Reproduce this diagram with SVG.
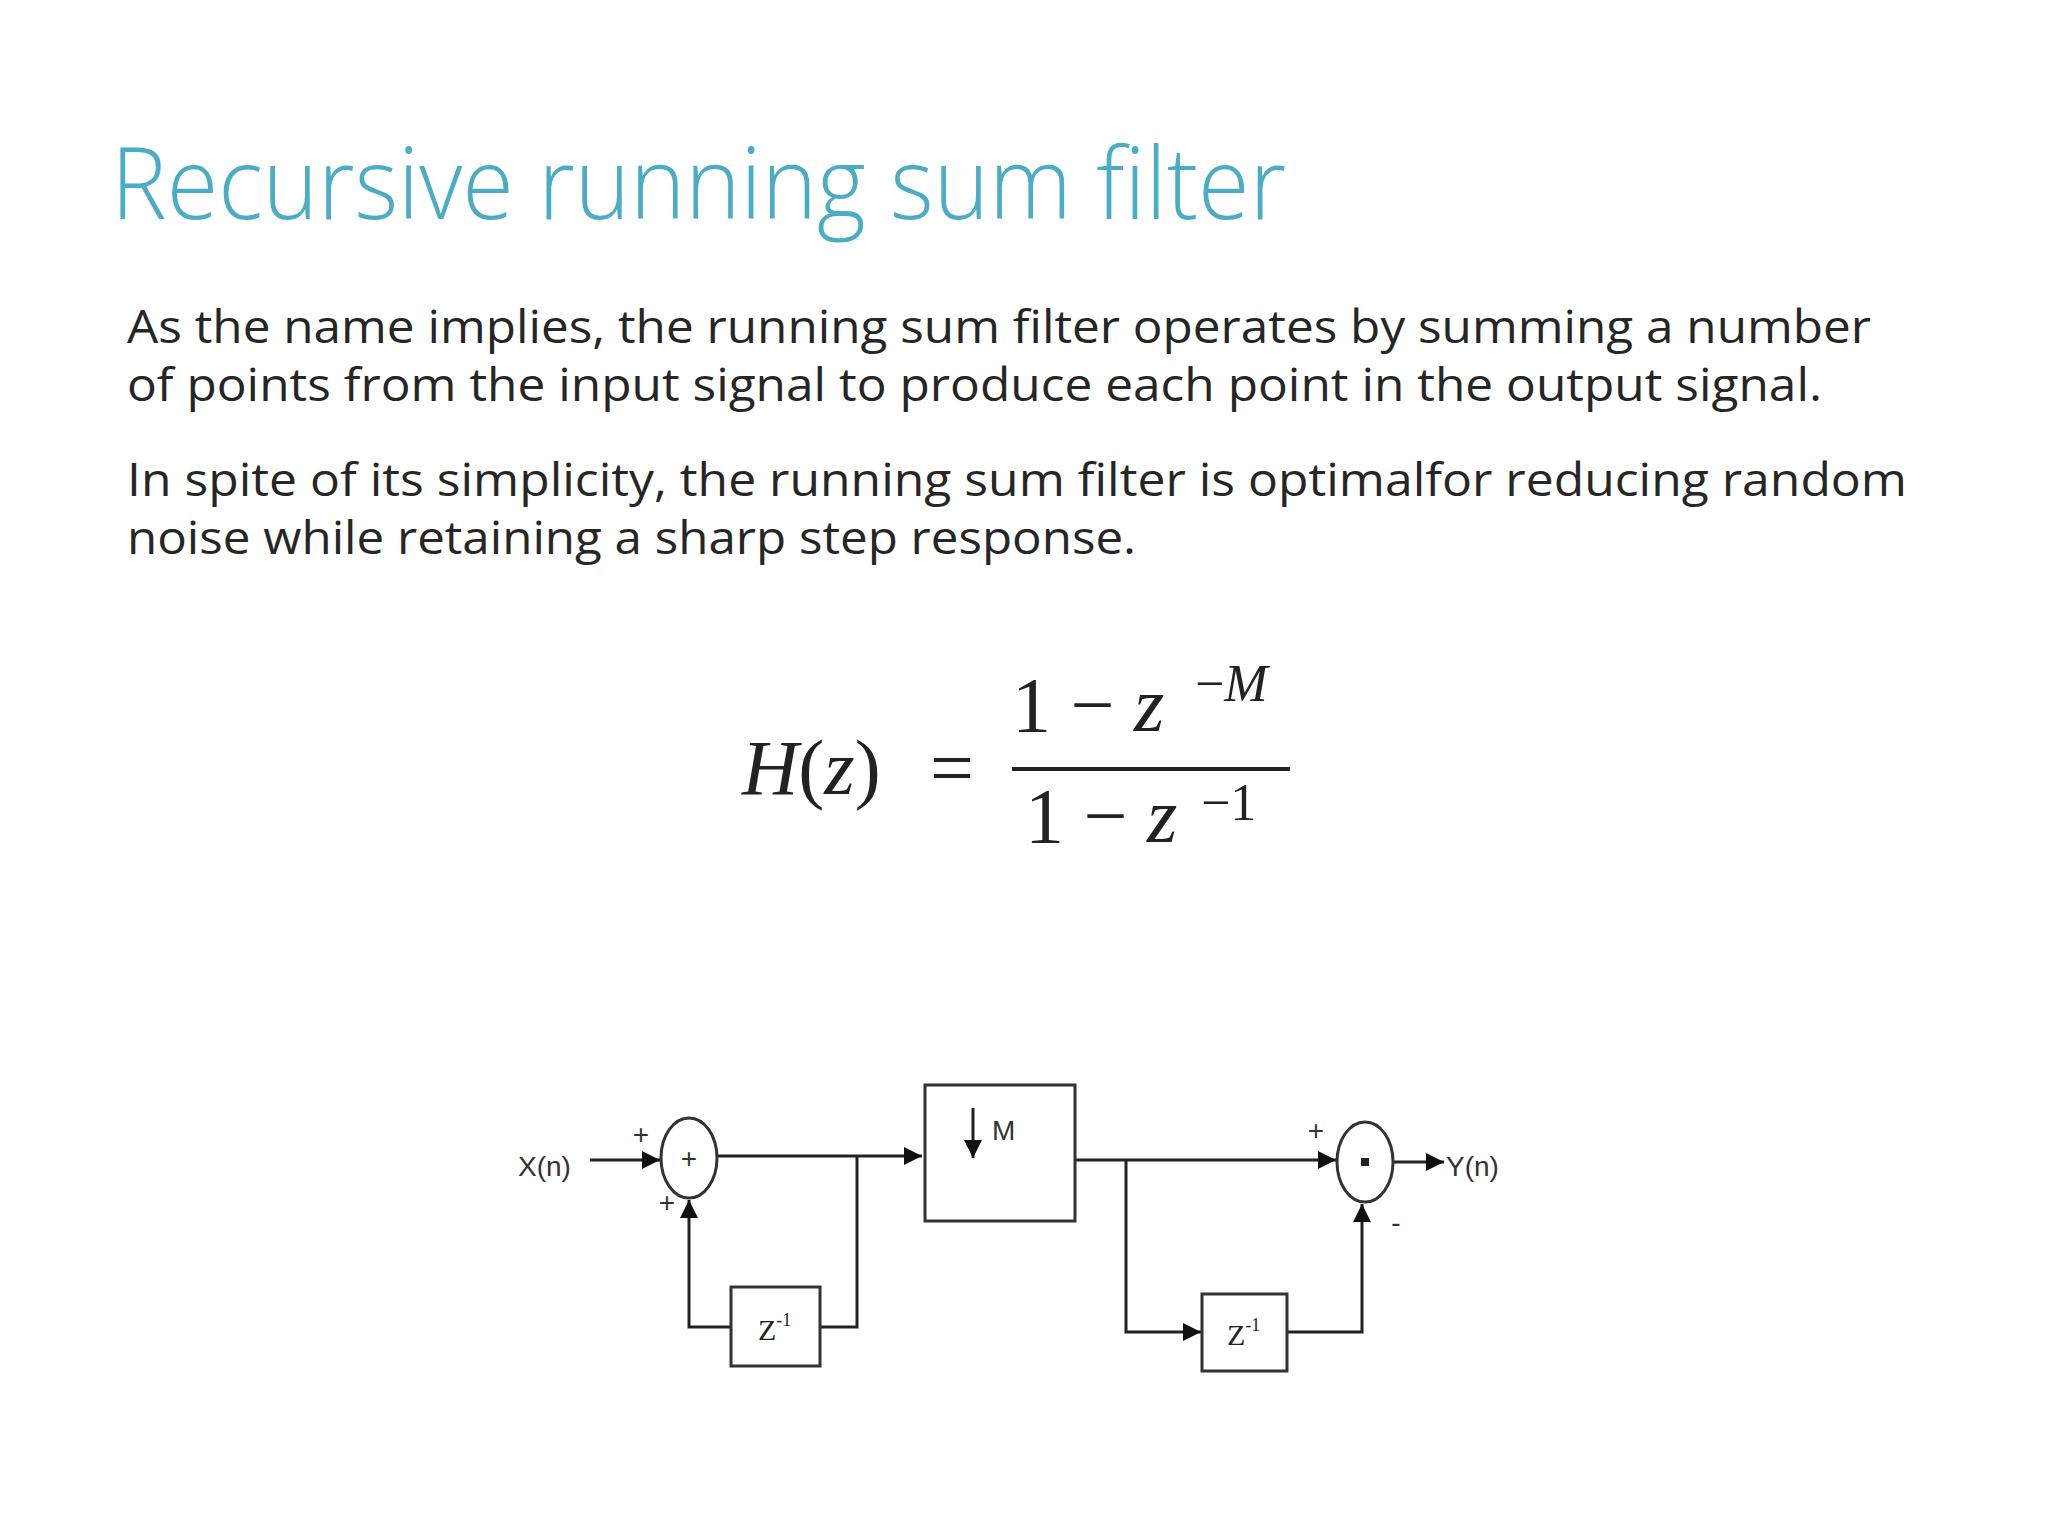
<svg xmlns="http://www.w3.org/2000/svg" width="2048" height="1536" viewBox="0 0 2048 1536">
<style>
.body{font-family:"Open Sans","Liberation Sans",sans-serif;font-size:46px;fill:#262626}
.m{font-family:"Liberation Serif",serif;fill:#222}
.ln{stroke:#222;stroke-width:3;fill:none}
.bx{stroke:#333;stroke-width:3;fill:#fff}
.lb{font-family:"Liberation Sans",sans-serif;font-size:28px;fill:#333}
</style>
<defs>
<marker id="ah" viewBox="0 0 10 10" refX="10" refY="5" markerWidth="6" markerHeight="6" markerUnits="strokeWidth" orient="auto"><path d="M0,0L10,5L0,10z" fill="#111"/></marker>
</defs>
<rect width="2048" height="1536" fill="#fff"/>
<text x="111" y="219" font-family="Open Sans,Liberation Sans,sans-serif" font-size="100" font-weight="300" fill="#4BACC6" textLength="1175" lengthAdjust="spacingAndGlyphs">Recursive running sum filter</text>
<text class="body" x="127" y="343" textLength="1744" lengthAdjust="spacingAndGlyphs">As the name implies, the running sum filter operates by summing a number</text>
<text class="body" x="127" y="401" textLength="1695" lengthAdjust="spacingAndGlyphs">of points from the input signal to produce each point in the output signal.</text>
<text class="body" x="127" y="496" textLength="1780" lengthAdjust="spacingAndGlyphs">In spite of its simplicity, the running sum filter is optimalfor  reducing random</text>
<text class="body" x="127" y="554" textLength="1009" lengthAdjust="spacingAndGlyphs">noise while retaining a sharp step response.</text>
<g id="formula">
<text class="m" x="742" y="794" font-size="78"><tspan font-style="italic">H</tspan>(<tspan font-style="italic">z</tspan>)</text>
<text class="m" x="930" y="794" font-size="78">=</text>
<line x1="1012" y1="769" x2="1290" y2="769" stroke="#222" stroke-width="4"/>
<text class="m" x="1012" y="731" font-size="78">1 − <tspan font-style="italic">z</tspan></text>
<text class="m" x="1195" y="701" font-size="52">−<tspan font-style="italic">M</tspan></text>
<text class="m" x="1025" y="842" font-size="78">1 − <tspan font-style="italic">z</tspan></text>
<text class="m" x="1201" y="820" font-size="52">−1</text>
</g>
<g id="connectors">
<line class="ln" x1="590" y1="1160" x2="660" y2="1160" marker-end="url(#ah)"/>
<line class="ln" x1="717" y1="1156" x2="922" y2="1156" marker-end="url(#ah)"/>
<polyline class="ln" points="857,1156 857,1327 820,1327"/>
<polyline class="ln" points="731,1327 689,1327 689,1200" marker-end="url(#ah)"/>
<line class="ln" x1="1075" y1="1160" x2="1336" y2="1160" marker-end="url(#ah)"/>
<polyline class="ln" points="1126,1160 1126,1332 1201,1332" marker-end="url(#ah)"/>
<polyline class="ln" points="1287,1332 1362,1332 1362,1204" marker-end="url(#ah)"/>
<line class="ln" x1="1393" y1="1162" x2="1444" y2="1162" marker-end="url(#ah)"/>
</g>
<g id="xin"><text class="lb" x="518" y="1176">X(n)</text></g>
<g id="sum1">
<ellipse cx="689" cy="1158" rx="28" ry="40" class="bx"/>
<text class="lb" x="689" y="1168" text-anchor="middle">+</text>
<text class="lb" x="641" y="1144" font-size="20" text-anchor="middle">+</text>
<text class="lb" x="667" y="1212" font-size="20" text-anchor="middle">+</text>
</g>
<g id="down">
<rect x="925" y="1085" width="150" height="136" class="bx"/>
<line class="ln" x1="973" y1="1108" x2="973" y2="1158" marker-end="url(#ah)"/>
<text class="lb" x="992" y="1140">M</text>
</g>
<g id="z1">
<rect x="731" y="1287" width="89" height="79" class="bx"/>
<text class="m" x="758" y="1340" font-size="30">Z<tspan font-size="18" dy="-14">-1</tspan></text>
</g>
<g id="sum2">
<ellipse cx="1365" cy="1162" rx="28" ry="40" class="bx"/>
<rect x="1361" y="1158" width="8" height="8" fill="#222"/>
<text class="lb" x="1316" y="1140" font-size="18" text-anchor="middle">+</text>
<text class="lb" x="1396" y="1232" font-size="18" text-anchor="middle">-</text>
</g>
<g id="z2">
<rect x="1202" y="1294" width="85" height="77" class="bx"/>
<text class="m" x="1227" y="1345" font-size="30">Z<tspan font-size="18" dy="-14">-1</tspan></text>
</g>
<g id="yout"><text class="lb" x="1446" y="1176">Y(n)</text></g>
</svg>
